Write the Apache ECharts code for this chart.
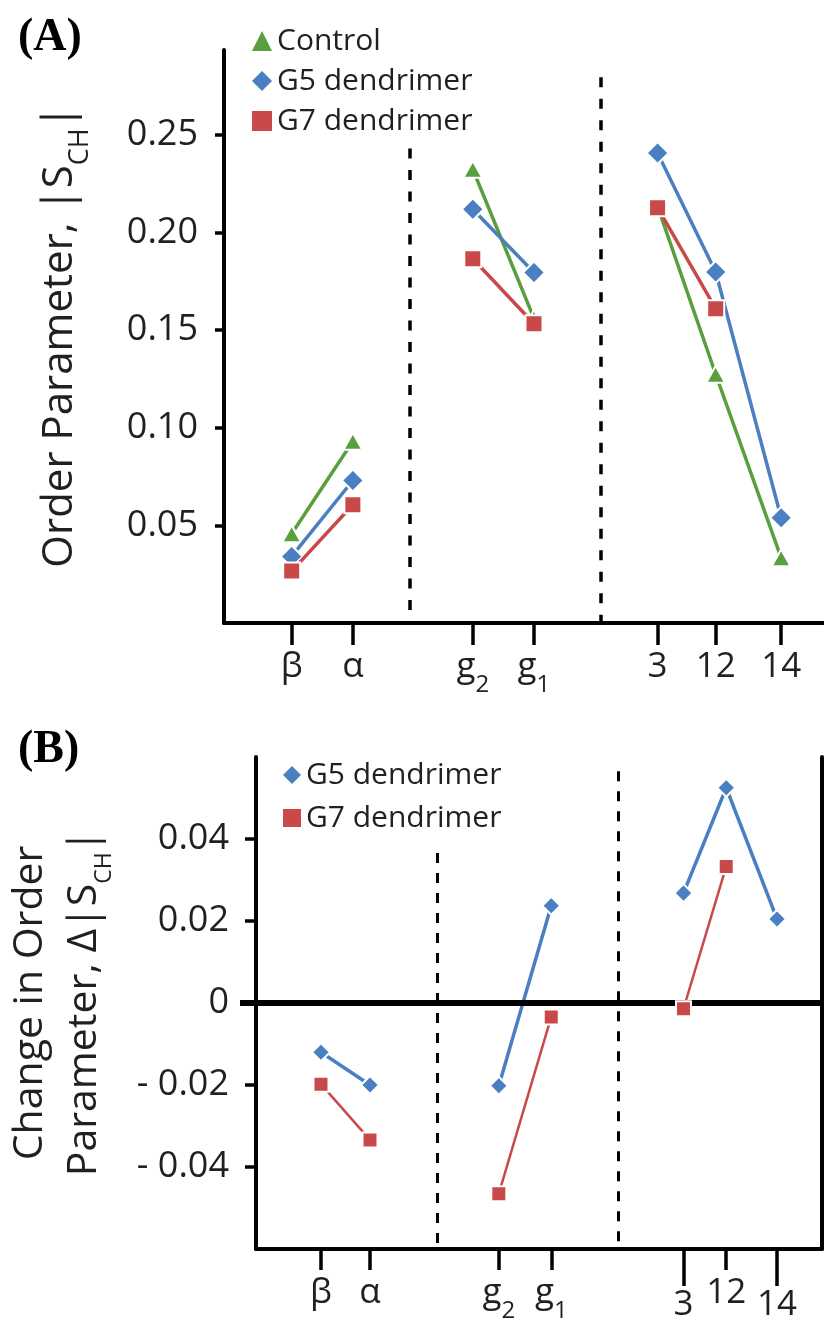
<!DOCTYPE html>
<html><head><meta charset="utf-8">
<script src="https://cdn.jsdelivr.net/npm/echarts@6/dist/echarts.min.js"></script>
<style>html,body{margin:0;padding:0;background:#fff}#c{width:824px;height:1324px}</style>
</head><body><div id="c"></div>
<script>
// ---------- Panel A data ----------
const categoriesA = ['β', 'α', 'g₂', 'g₁', '3', '12', '14'];
const xPosA = [1, 2, 3.96, 4.96, 6.98, 7.93, 9];
const groupA = [0, 0, 1, 1, 2, 2, 2];
const controlA = [0.0457, 0.0931, 0.2324, 0.156, 0.2134, 0.1274, 0.0334];
const g5A = [0.0341, 0.0730, 0.2119, 0.1795, 0.2407, 0.1798, 0.0539];
const g7A = [0.0266, 0.0606, 0.1866, 0.1533, 0.2127, 0.1610, null];
const yTicksA = [0.05, 0.10, 0.15, 0.20, 0.25];
const dividerXA = [2.93, 6.05];
const dividerTopA = [0.243, 0.2795];

// ---------- Panel B data ----------
const categoriesB = ['β', 'α', 'g₂', 'g₁', '3', '12', '14'];
const xPosB = [1, 1.86, 4.12, 5.04, 7.36, 8.11, 9];
const groupB = [0, 0, 1, 1, 2, 2, 2];
const g5B = [-0.0120, -0.0200, -0.0202, 0.0237, 0.0268, 0.0525, 0.0205];
const g7B = [-0.0198, -0.0334, -0.0465, -0.0034, -0.0014, 0.0333, null];
const yTicksB = [-0.04, -0.02, 0, 0.02, 0.04];
const yLabelsB = [-0.04, -0.02, 0, 0.02, 0.04];
const zeroTickB = [0];
const dividerXB = [3.04, 6.21];
const dividerTopB = [0.0366, 0.0565];
const lowLabelsB = ['3', '14'];

const GREEN = '#5a9f3e', BLUE = '#4a7fc1', RED = '#c9484a', INK = '#231f20';
const FONT = 'Open Sans';

function subRich(s) {
  return s.replace(/[\u2080-\u2089]/g, c => '{sub|' + (c.charCodeAt(0) - 0x2080) + '}');
}
function lineData(xs, ys, groups) {
  const out = [];
  for (let i = 0; i < xs.length; i++) {
    if (i > 0 && groups[i] !== groups[i - 1]) out.push([xs[i], '-']);
    out.push([xs[i], ys[i] == null ? '-' : ys[i]]);
  }
  return out;
}
function labelFor(cats, xs) {
  return v => {
    const i = xs.findIndex(x => Math.abs(x - v) < 1e-9);
    return i < 0 ? '' : subRich(cats[i]);
  };
}
function dividers(xs, tops, bottom, width, dash) {
  return {
    silent: true, symbol: ['none', 'none'], label: { show: false },
    emphasis: { disabled: true },
    lineStyle: { color: '#000', width: width, type: dash },
    data: xs.map((x, i) => [{ coord: [x, tops[i]] }, { coord: [x, bottom] }])
  };
}

const X_MIN_B = -0.14, X_MAX_B = 9.79;
const idxMainB = categoriesB.map((c, i) => i).filter(i => !lowLabelsB.includes(categoriesB[i]));
const idxLowB = categoriesB.map((c, i) => i).filter(i => lowLabelsB.includes(categoriesB[i]));
const xMainB = idxMainB.map(i => xPosB[i]);
const xLowB = idxLowB.map(i => xPosB[i]);

const axisLineStyle = { color: '#000', width: 4 };
const tickStyle = { color: '#000', width: 3.5 };
const xLabelBase = {
  color: INK, fontFamily: FONT, fontSize: 35, lineHeight: 60,
  rich: { sub: { fontSize: 24, lineHeight: 24, padding: [36, 0, 0, 0], color: INK, fontFamily: FONT } }
};
const legendText = { fontSize: 30, fontFamily: FONT, color: INK };

const chart = echarts.init(document.getElementById('c'), null, { renderer: 'canvas' });
const dividerLinesB = dividers(dividerXB, dividerTopB, -0.06, 3, [10, 10]);
dividerLinesB.data.push([
  { coord: [X_MIN_B, 0], lineStyle: { type: 'solid', width: 6, color: '#000' } },
  { coord: [X_MAX_B, 0] }
]);

chart.setOption({
  animation: false,
  backgroundColor: '#fff',
  textStyle: { fontFamily: FONT, color: INK },
  title: [
    { text: '(A)', left: 13, top: 10, textStyle: { fontFamily: 'Liberation Serif', fontWeight: 'bold', fontSize: 46, color: '#000' } },
    { text: '(B)', left: 13, top: 722, textStyle: { fontFamily: 'Liberation Serif', fontWeight: 'bold', fontSize: 46, color: '#000' } }
  ],
  legend: [
    {
      orient: 'vertical', left: 247, top: 21, itemWidth: 20, itemHeight: 20, itemGap: 10,
      selectedMode: false, symbolKeepAspect: true,
      itemStyle: { borderWidth: 0 },
      textStyle: legendText,
      data: [{ name: 'Control', icon: 'triangle' }, { name: 'G5 dendrimer', icon: 'diamond' }, { name: 'G7 dendrimer', icon: 'rect' }]
    },
    {
      orient: 'vertical', left: 278, top: 755, itemWidth: 18, itemHeight: 18, itemGap: 13,
      selectedMode: false, symbolKeepAspect: true,
      itemStyle: { borderWidth: 0 },
      textStyle: legendText,
      data: [{ name: 'G5 dendrimer', icon: 'diamond' }, { name: 'G7 dendrimer', icon: 'rect' }]
    }
  ],
  grid: [
    { left: 224, top: 50, width: 600, height: 573, outerBoundsMode: 'none' },
    { left: 256, top: 757, width: 566, height: 492, outerBoundsMode: 'none' },
    { left: 256, top: 757, width: 566, height: 492, outerBoundsMode: 'none' }
  ],
  xAxis: [
    {
      gridIndex: 0, type: 'value', min: -0.106, max: 9.70,
      axisLine: { show: true, onZero: false, lineStyle: axisLineStyle },
      axisTick: { show: true, customValues: xPosA, length: 22, lineStyle: tickStyle },
      axisLabel: Object.assign({ customValues: xPosA, margin: 14, formatter: labelFor(categoriesA, xPosA) }, xLabelBase),
      splitLine: { show: false }
    },
    {
      gridIndex: 1, type: 'value', min: X_MIN_B, max: X_MAX_B,
      axisLine: { show: true, onZero: false, lineStyle: axisLineStyle },
      axisTick: { show: true, customValues: xMainB, length: 21, lineStyle: tickStyle },
      axisLabel: Object.assign({ customValues: xMainB, margin: 14, formatter: labelFor(categoriesB, xPosB) }, xLabelBase),
      splitLine: { show: false }
    },
    {
      gridIndex: 2, type: 'value', min: X_MIN_B, max: X_MAX_B,
      axisLine: { show: false, onZero: false },
      axisTick: { show: true, customValues: xLowB, length: 37, lineStyle: tickStyle },
      axisLabel: { customValues: xLowB, margin: 38, lineHeight: 36, formatter: labelFor(categoriesB, xPosB), color: INK, fontFamily: FONT, fontSize: 35 },
      splitLine: { show: false }
    }
  ],
  yAxis: [
    {
      gridIndex: 0, type: 'value', min: 0, max: 0.2935,
      axisLine: { show: true, onZero: false, lineStyle: axisLineStyle },
      axisTick: { show: true, customValues: yTicksA, length: 9, lineStyle: tickStyle },
      axisLabel: { customValues: yTicksA, margin: 26, color: INK, fontFamily: FONT, fontSize: 36, formatter: v => v.toFixed(2) },
      splitLine: { show: false },
      name: 'Order Parameter, |S{sub|CH}|', nameLocation: 'middle', nameRotate: 90, nameGap: 129,
      nameTextStyle: {
        fontFamily: FONT, fontSize: 42, color: INK, lineHeight: 70,
        rich: { sub: { fontFamily: FONT, fontSize: 27, lineHeight: 27, padding: [40, 0, 0, 0], color: INK } }
      }
    },
    {
      gridIndex: 1, type: 'value', min: -0.06, max: 0.06,
      axisLine: { show: true, onZero: false, lineStyle: axisLineStyle },
      axisTick: { show: true, customValues: yTicksB, length: 11, lineStyle: tickStyle },
      axisLabel: {
        customValues: yLabelsB, margin: 27, color: INK, fontFamily: FONT, fontSize: 36,
        formatter: v => Math.abs(v) < 1e-9 ? '0' : (v < 0 ? '- ' + Math.abs(v).toFixed(2) : v.toFixed(2))
      },
      splitLine: { show: false },
      name: 'Change in Order\nParameter, Δ|S{sub|CH}|', nameLocation: 'middle', nameRotate: 90, nameGap: 145,
      nameTextStyle: {
        fontFamily: FONT, fontSize: 41, color: INK, lineHeight: 54, align: 'center',
        rich: { sub: { fontFamily: FONT, fontSize: 23, lineHeight: 23, padding: [40, 0, 0, 0], color: INK } }
      }
    },
    {
      gridIndex: 1, type: 'value', min: -0.06, max: 0.06, position: 'right',
      axisLine: { show: true, onZero: false, lineStyle: axisLineStyle },
      axisTick: { show: false }, axisLabel: { show: false }, splitLine: { show: false }
    },
    {
      gridIndex: 2, type: 'value', min: -0.06, max: 0.06, position: 'left',
      axisLine: { show: true, onZero: false, lineStyle: { color: 'rgba(0,0,0,0)', width: 0 } },
      axisTick: { show: true, customValues: zeroTickB, length: 16, lineStyle: { color: '#000', width: 6 } },
      axisLabel: { show: false }, splitLine: { show: false }
    }
  ],
  series: [
    {
      type: 'line', name: 'Control', xAxisIndex: 0, yAxisIndex: 0, z: 3,
      data: lineData(xPosA, controlA, groupA),
      symbol: 'triangle', symbolSize: [19, 17],
      lineStyle: { color: GREEN, width: 3.5 },
      itemStyle: { color: GREEN, borderColor: '#fff', borderWidth: 2 },
      markLine: dividers(dividerXA, dividerTopA, 0, 3.5, [10, 11.5])
    },
    {
      type: 'line', name: 'G5 dendrimer', xAxisIndex: 0, yAxisIndex: 0, z: 4,
      data: lineData(xPosA, g5A, groupA),
      symbol: 'diamond', symbolSize: 22,
      lineStyle: { color: BLUE, width: 3.5 },
      itemStyle: { color: BLUE, borderColor: '#fff', borderWidth: 2 }
    },
    {
      type: 'line', name: 'G7 dendrimer', xAxisIndex: 0, yAxisIndex: 0, z: 5,
      data: lineData(xPosA, g7A, groupA),
      symbol: 'rect', symbolSize: 17,
      lineStyle: { color: RED, width: 3.5 },
      itemStyle: { color: RED, borderColor: '#fff', borderWidth: 2 }
    },
    {
      type: 'line', name: 'G5 dendrimer', xAxisIndex: 1, yAxisIndex: 1, z: 4,
      data: lineData(xPosB, g5B, groupB),
      symbol: 'diamond', symbolSize: 18,
      lineStyle: { color: BLUE, width: 3.5 },
      itemStyle: { color: BLUE, borderColor: '#fff', borderWidth: 2 },
      markLine: dividerLinesB
    },
    {
      type: 'line', name: 'G7 dendrimer', xAxisIndex: 1, yAxisIndex: 1, z: 5,
      data: lineData(xPosB, g7B, groupB),
      symbol: 'rect', symbolSize: 15,
      lineStyle: { color: RED, width: 2.5 },
      itemStyle: { color: RED, borderColor: '#fff', borderWidth: 2 }
    }
  ]
});
</script>
</body></html>
